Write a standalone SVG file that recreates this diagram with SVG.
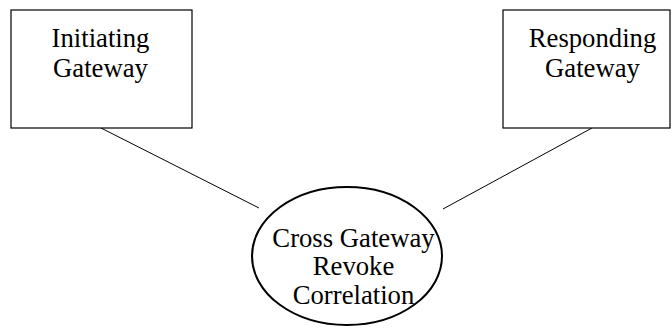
<svg xmlns="http://www.w3.org/2000/svg" width="672" height="333" viewBox="0 0 672 333">
<style>
.box{fill:#fff;stroke:#000;stroke-width:1.2}
.ell{fill:#fff;stroke:#000;stroke-width:2}
.t{font-size:26.7px;text-anchor:middle;fill:#000}
.c{stroke:#000;stroke-width:1;fill:none}
</style>
<rect width="672" height="333" fill="#fff"/>
<g id="connectors">
<line class="c" x1="101" y1="128" x2="259" y2="208"/>
<line class="c" x1="592" y1="128" x2="443" y2="209"/>
</g>
<g font-family="'Liberation Serif', 'Times New Roman', Times, serif">
<g id="initiating">
<rect class="box" x="11" y="10" width="181" height="118"/>
<text class="t" x="100.5" y="47">Initiating</text>
<text class="t" x="100.5" y="77">Gateway</text>
</g>
<g id="responding">
<rect class="box" x="503" y="10" width="167" height="118"/>
<text class="t" x="592.5" y="47">Responding</text>
<text class="t" x="592.5" y="77">Gateway</text>
</g>
<g id="xgrc">
<ellipse class="ell" cx="347" cy="256" rx="95" ry="69"/>
<text class="t" x="353.5" y="247">Cross Gateway</text>
<text class="t" x="353.5" y="275">Revoke</text>
<text class="t" x="353.5" y="304">Correlation</text>
</g>
</g>
</svg>
